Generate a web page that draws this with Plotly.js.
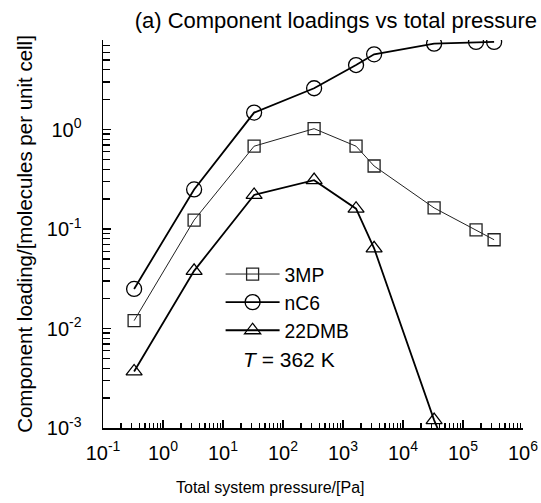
<!DOCTYPE html>
<html>
<head>
<meta charset="utf-8">
<script src="https://cdn.plot.ly/plotly-3.0.1.min.js"></script>
<style>html,body{margin:0;padding:0;background:#fff;}#chart{width:541px;height:503px;}</style>
</head>
<body>
<div id="chart"></div>
<script>
// Data
var pressure = [0.33, 3.3, 33, 330, 1650, 3300, 33000, 165000, 330000];
var load3MP  = [0.012, 0.123, 0.68, 1.02, 0.68, 0.43, 0.163, 0.098, 0.078];
var loadNC6  = [0.025, 0.25, 1.48, 2.6, 4.45, 5.7, 7.3, 7.6, 7.6];
var load22DMB = [0.0037, 0.038, 0.22, 0.31, 0.16, 0.064, 0.0012, 0.00012, null];
var seriesNames = ['3MP', 'nC6', '22DMB'];

var xTickVals = [0.1, 1, 10, 100, 1000, 10000, 100000, 1000000];
var xTickText = ['10<sup>-1</sup>','10<sup>0</sup>','10<sup>1</sup>','10<sup>2</sup>','10<sup>3</sup>','10<sup>4</sup>','10<sup>5</sup>','10<sup>6</sup>'];
var yTickVals = [0.001, 0.01, 0.1, 1];
var yTickText = ['10<sup>-3</sup>','10<sup>-2</sup>','10<sup>-1</sup>','10<sup>0</sup>'];

var titleText = '(a) Component loadings vs total pressure';
var xTitleText = 'Total system pressure/[Pa]';
var yTitleText = 'Component loading/[molecules per unit cell]';
var noteText = '<i>T</i> = 362 K';

function minorVals(lo, hi) {
  var out = [];
  for (var e = lo; e < hi; e++) {
    for (var d = 2; d <= 9; d++) out.push(d * Math.pow(10, e));
  }
  return out;
}

var FONT = 'Arial, "Liberation Sans", Helvetica, sans-serif';
var W = 541, H = 503, ML = 103, MR = 18, MT = 40, MB = 75;
var PW = W - ML - MR, PH = H - MT - MB;

var traces = [
  {x: pressure, y: load3MP, name: seriesNames[0], mode: 'lines+markers',
   line: {color: '#222', width: 1},
   marker: {symbol: 'square-open', size: 12, color: '#222', line: {width: 1.3}}},
  {x: pressure, y: loadNC6, name: seriesNames[1], mode: 'lines+markers',
   line: {color: '#000', width: 1.8},
   marker: {symbol: 'circle-open', size: 15, color: '#000', line: {width: 1.3}}},
  {x: pressure, y: load22DMB, name: seriesNames[2], mode: 'lines+markers',
   line: {color: '#000', width: 1.8},
   marker: {symbol: 'triangle-up-open', size: 14, color: '#000', line: {width: 1.3}}}
];

var layout = {
  width: W, height: H,
  paper_bgcolor: '#fff', plot_bgcolor: '#fff',
  font: {family: FONT, size: 20, color: '#000'},
  margin: {l: ML, r: MR, t: MT, b: MB},
  showlegend: true,
  title: {text: titleText, xref: 'container', x: 537 / W, xanchor: 'right',
          yref: 'container', y: 1 - 20 / H, yanchor: 'middle', font: {family: FONT, size: 22, color: '#000'}},
  xaxis: {
    type: 'log', range: [-1, 6], showgrid: false, zeroline: false,
    showline: true, linecolor: '#000', linewidth: 1.5, mirror: false,
    ticks: 'inside', ticklen: 8, tickwidth: 1.5, tickcolor: '#000',
    tickmode: 'array', tickvals: xTickVals, ticktext: xTickText,
    tickfont: {family: FONT, size: 20, color: '#000'}, ticklabelstandoff: 6,
    minor: {tickmode: 'array', tickvals: minorVals(-1, 6), ticks: 'inside', ticklen: 5, tickwidth: 1.2, tickcolor: '#000', showgrid: false}
  },
  yaxis: {
    type: 'log', range: [-3, 0.9], showgrid: false, zeroline: false,
    showline: true, linecolor: '#000', linewidth: 1.5, mirror: false,
    ticks: 'inside', ticklen: 8, tickwidth: 1.5, tickcolor: '#000',
    tickmode: 'array', tickvals: yTickVals, ticktext: yTickText,
    tickfont: {family: FONT, size: 20, color: '#000'}, ticklabelstandoff: 16,
    minor: {tickmode: 'array', tickvals: minorVals(-3, 1), ticks: 'inside', ticklen: 7, tickwidth: 1.2, tickcolor: '#000', showgrid: false},
    title: {text: yTitleText, font: {family: FONT, size: 20.5, color: '#000'}, standoff: 8}
  },
  legend: {x: 0.28, y: (428 - 255) / PH, xanchor: 'left', yanchor: 'top', bgcolor: 'rgba(0,0,0,0)',
           font: {family: FONT, size: 19.3, color: '#000'}, itemwidth: 54, tracegroupgap: 0},
  annotations: [
    {text: noteText, xref: 'paper', yref: 'paper', x: (289 - ML) / PW, y: (428 - 359) / PH,
     xanchor: 'center', yanchor: 'middle', showarrow: false, font: {family: FONT, size: 21, color: '#000'}},
    {text: xTitleText, xref: 'paper', yref: 'paper', x: (270.5 - ML) / PW, y: (428 - 488) / PH,
     xanchor: 'center', yanchor: 'middle', showarrow: false, font: {family: FONT, size: 16, color: '#000'}}
  ]
};

Plotly.newPlot('chart', traces, layout, {displayModeBar: false, staticPlot: true});
</script>
</body>
</html>
